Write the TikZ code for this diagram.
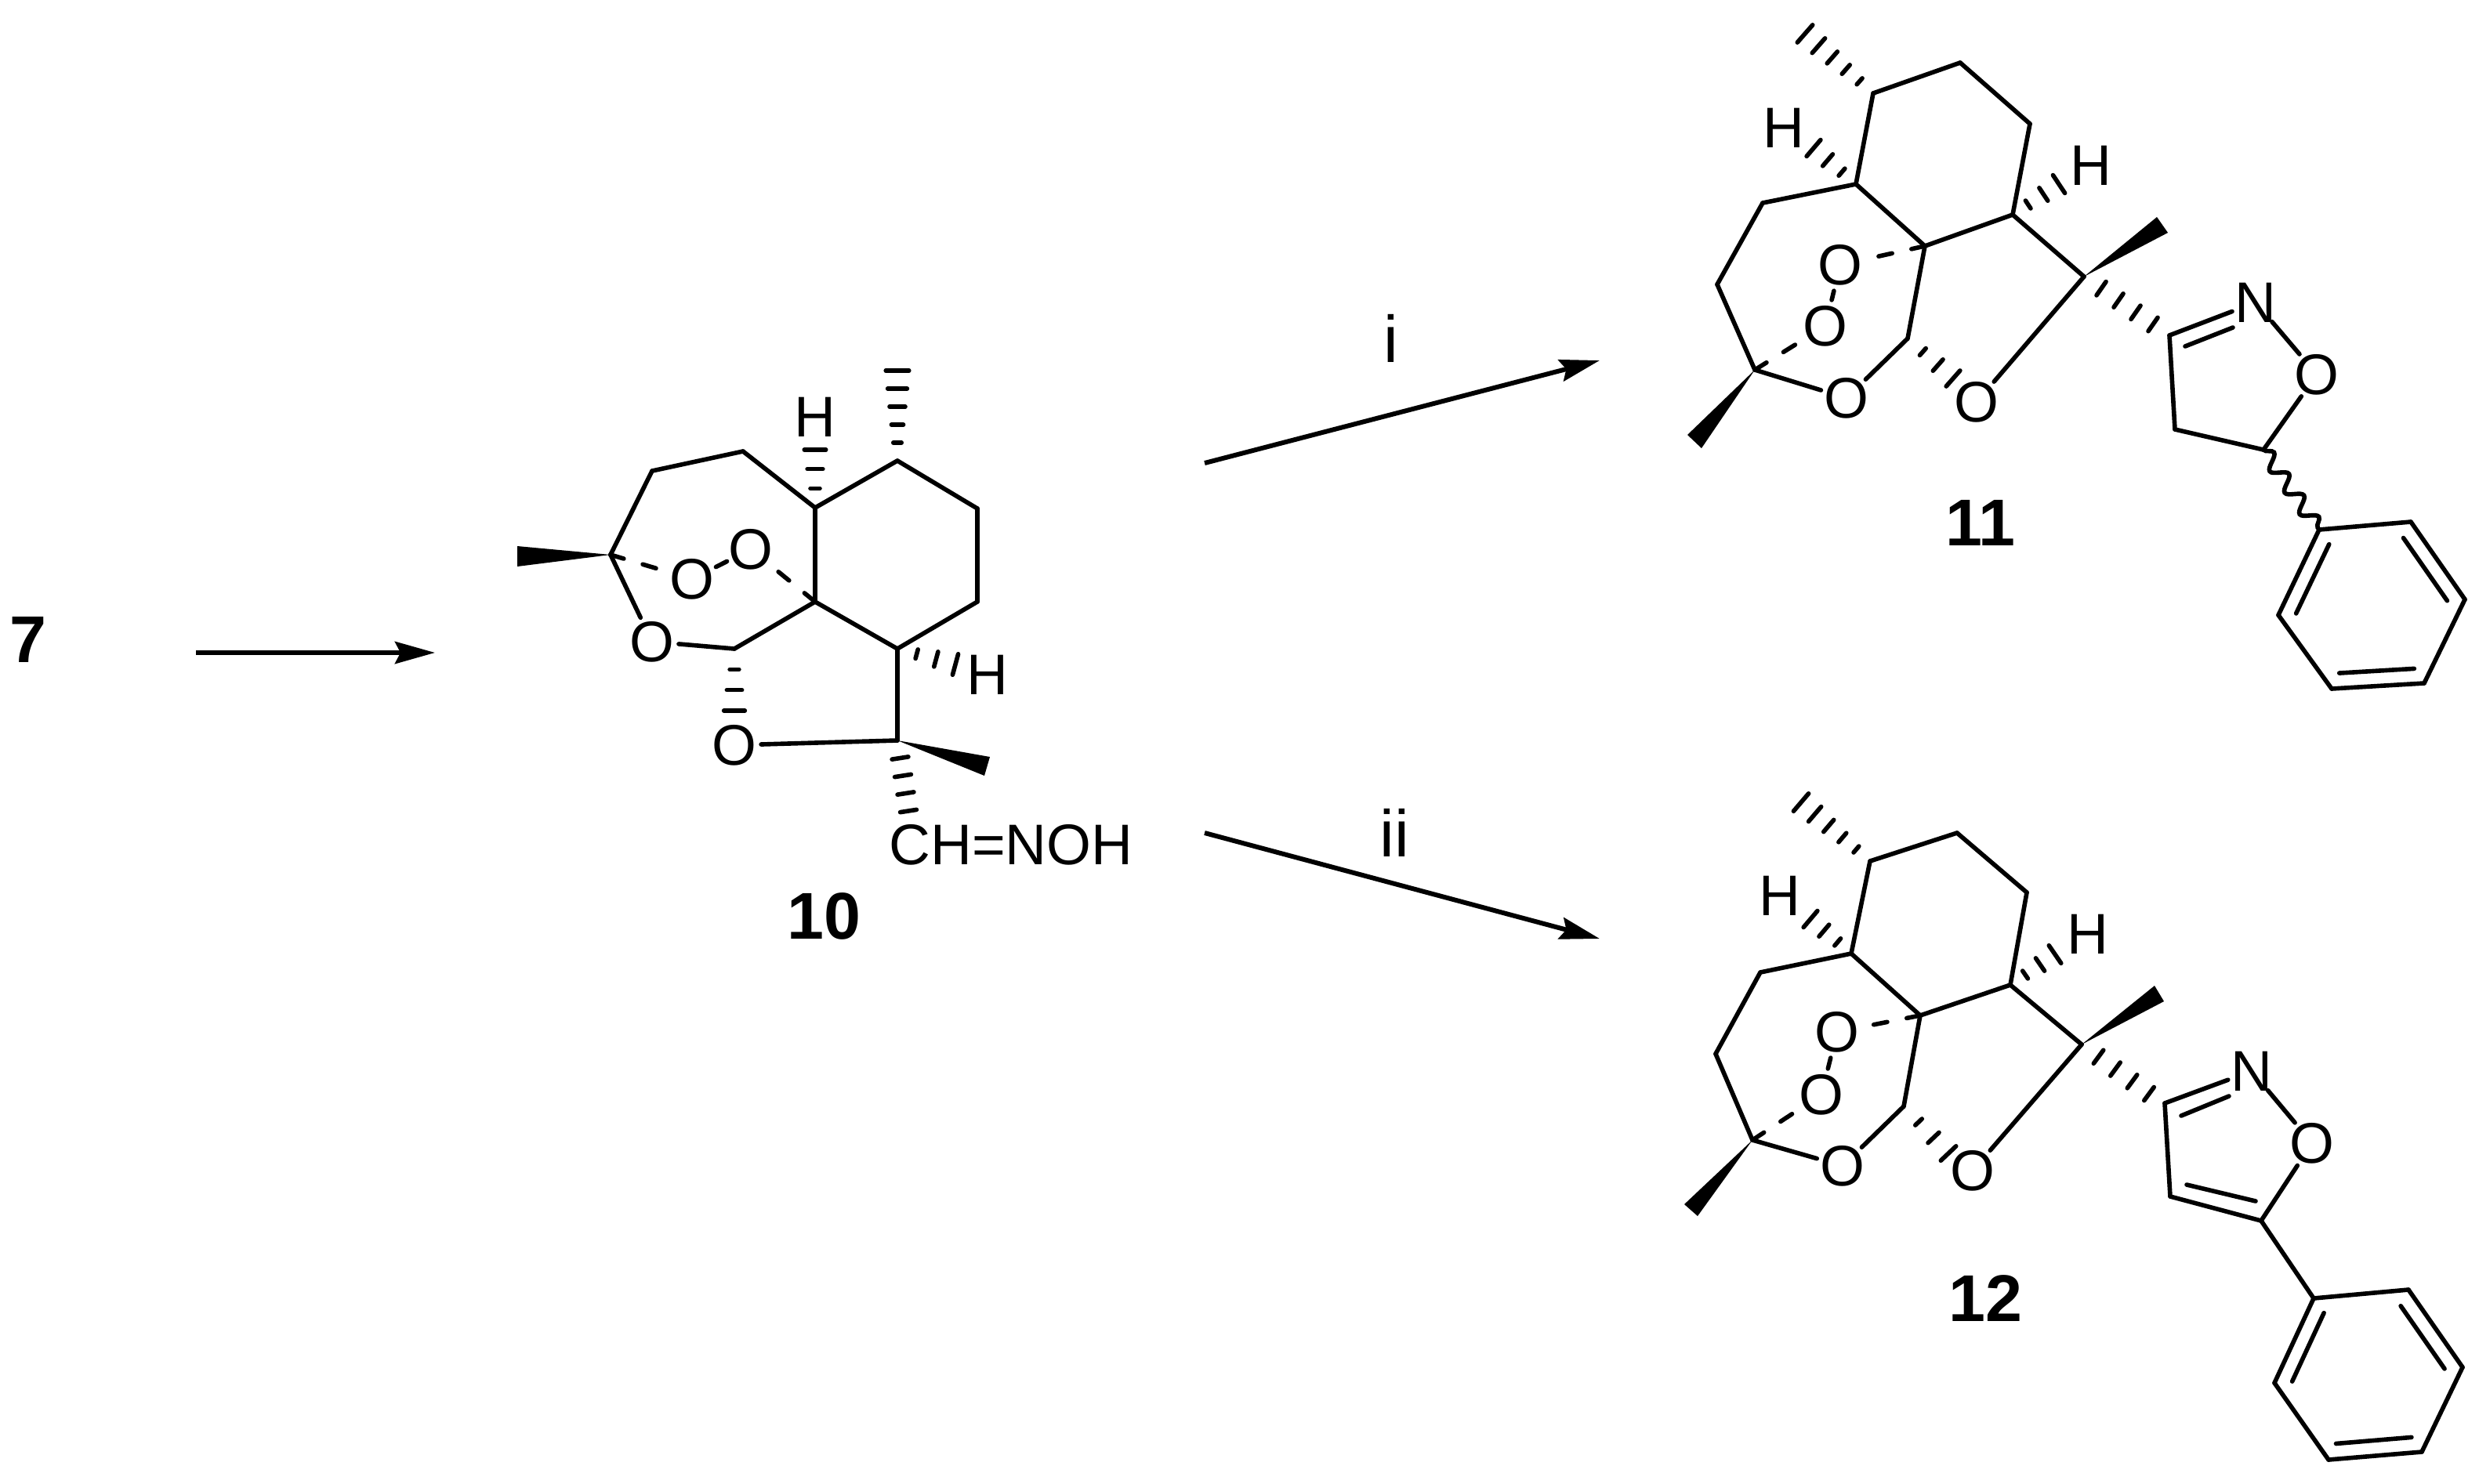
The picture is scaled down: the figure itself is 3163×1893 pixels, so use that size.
\documentclass[tikz,border=0pt]{standalone}
\usepackage{fontspec}
\setmainfont{Liberation Sans}
\usetikzlibrary{arrows.meta}
\usetikzlibrary{calc}
\usetikzlibrary{decorations.pathmorphing}
\tikzset{bond/.style = {line width=1.6pt, line cap=round},
         hashline/.style = {bond},
         openbond/.style = {bond, dash pattern=on 5pt off 7.2pt},
         wavybond/.style = {bond, decorate, decoration={snake, amplitude=2.6pt, segment length=9.5pt}},
         atom/.style = {circle, inner sep=-1pt, font=\fontsize{20.8}{24}\selectfont},
         label/.style = {inner sep=0pt, font=\fontsize{24}{28}\selectfont\bfseries},
         cond/.style = {inner sep=0pt, font=\fontsize{24}{28}\selectfont},
         rxn/.style = {line width=1.7pt, -{Stealth[length=14.5pt, width=8pt, inset=2pt]}}}

% stripes of a hashed bond, half widths in pt
\newcommand{\hashbond}[5]{
  \coordinate (far) at ($(#1)!2!(#2)$);
  \foreach \k in {1,...,#3}{
    \pgfmathsetmacro\f{\k/#3}
    \pgfmathsetmacro\w{#4+\f*(#5-#4)}
    \draw [hashline] ($(#1)!\f!(#2)!\w pt!90:(far)$) -- ($(#1)!\f!(#2)!-\w pt!90:(far)$);
  }
}
\newcommand{\artcore}[1]{
  \foreach \p/\q in {a/b,b/c,c/d,d/e,e/f,f/g,g/h,h/i,i/d,i/j,h/k,j/O3,O3/a,k/O4}
    \draw [bond] (#1\p) -- (#1\q);
  \foreach \p/\q in {a/O1,O1/O2,i/O2}
    \draw [openbond] (#1\p) -- (#1\q);
  \fill (#1a) -- (#1ma) -- (#1mb) -- cycle;
  \fill (#1k) -- (#1mc) -- (#1md) -- cycle;
  \hashbond{#1e}{#1he}{5}{0.8}{4.2}
  \hashbond{#1d}{#1hd}{3}{0.6}{3.9}
  \hashbond{#1h}{#1hh}{3}{0.6}{3.9}
  \hashbond{#1j}{#1hj}{3}{0.6}{3.8}
  \hashbond{#1k}{#1hk}{4}{3}{3}
}
\newcommand{\phenyl}[1]{
  \coordinate (#1pc) at ($(#1p1)!.5!(#1p4)$);
  \foreach \p/\q in {1/2,2/3,3/4,4/5,5/6,6/1}
    \draw [bond] (#1p\p) -- (#1p\q);
  \foreach \p/\q in {1/6,2/3,4/5}
    \draw [bond] ($(#1p\p)!.19!(#1pc)$) -- ($(#1p\q)!.19!(#1pc)$);
}

\begin{document}
\begin{tikzpicture}[x=0.01cm, y=-0.01cm]
  \useasboundingbox (0,0) rectangle (3163,1893);

  % compound 10
  \foreach \n/\x/\y in {a/779/708,b/832/601,c/948/576,d/1040/648,e/1145/588,f/1247/649,
                        g/1247/768,h/1145/828,i/1040/768,j/937/828,k/1145/945,
                        ma/660/697,mb/660/723,mc/1263/966,md/1256/990,he/1145/473,
                        hd/1040/574,hh/1219/848,hj/937/907,hk/1159/1035}
    \coordinate (p10\n) at (\x,\y);
  \foreach \n/\x/\y in {O1/883/739,O2/958/701,O3/832/819,O4/937/951}
    \node [atom] (p10\n) at (\x,\y) {O};
  \node [atom] (p10Hd) at (1040,532) {H};
  \node [atom] (p10Hh) at (1260,861) {H};
  \artcore{p10}
  \node [atom] (oxime) at (1290,1078) {CH=NOH};
  \node [label] (lab10) at (1051,1169) {10};

  % compound 11
  \foreach \n/\x/\y in {a/2239/472,b/2191/363,c/2249/259,d/2368/235,e/2390/119,f/2501/80,
                        g/2590/158,h/2568/274,i/2456/314,j/2434/432,k/2659/353,
                        ma/2153/555,mb/2171/572,mc/2752/277,md/2766/297,he/2303/43,
                        hd/2314/189,hh/2627/235,hj/2492/483,hk/2747/414,
                        l/2768/428,m/2775/548,n/2888/574,dl/2788/442,dN/2849/418,
                        p1/2959/676,p2/3076/666,p3/3145/765,p4/3093/872,p5/2975/879,p6/2907/785}
    \coordinate (p11\n) at (\x,\y);
  \foreach \n/\x/\y in {O1/2329/416,O2/2348/338,O3/2356/508,O4/2522/513}
    \node [atom] (p11\n) at (\x,\y) {O};
  \node [atom] (p11Hd) at (2276,163) {H};
  \node [atom] (p11Hh) at (2668,211) {H};
  \artcore{p11}
  \node [atom] (p11N) at (2878,386) {N};
  \node [atom] (p11O5) at (2956,478) {O};
  \foreach \p/\q in {l/N,N/O5,O5/n,n/m,m/l,dl/dN}
    \draw [bond] (p11\p) -- (p11\q);
  \draw [wavybond] (p11n) -- (p11p1);
  \phenyl{p11}
  \node [label] (lab11) at (2527,667) {11};

  % compound 12
  \foreach \n/\x/\y in {a/2236/1455,b/2189/1345,c/2246/1241,d/2362/1217,e/2386/1099,f/2497/1063,
                        g/2586/1139,h/2565/1257,i/2450/1296,j/2429/1412,k/2656/1333,
                        ma/2149/1537,mb/2166/1552,mc/2749/1258,md/2761/1278,he/2298/1024,
                        hd/2310/1173,hh/2622/1218,hj/2486/1472,hk/2742/1396,
                        l/2762/1408,m/2769/1527,n/2885/1558,dl/2783/1424,dN/2844/1399,
                        dm/2790/1512,dn/2878/1533,
                        p1/2952/1657,p2/3073/1646,p3/3142/1745,p4/3090/1853,p5/2971/1863,p6/2902/1765}
    \coordinate (p12\n) at (\x,\y);
  \foreach \n/\x/\y in {O1/2324/1397,O2/2344/1317,O3/2351/1488,O4/2517/1494}
    \node [atom] (p12\n) at (\x,\y) {O};
  \node [atom] (p12Hd) at (2271,1143) {H};
  \node [atom] (p12Hh) at (2664,1192) {H};
  \artcore{p12}
  \node [atom] (p12N) at (2873,1367) {N};
  \node [atom] (p12O5) at (2950,1459) {O};
  \foreach \p/\q in {l/N,N/O5,O5/n,n/m,m/l,dl/dN,dm/dn,n/p1}
    \draw [bond] (p12\p) -- (p12\q);
  \phenyl{p12}
  \node [label] (lab12) at (2533,1657) {12};

  % scheme
  \node [label] (lab7) at (36,816) {7};
  \coordinate (s1) at (250,833);
  \coordinate (e1) at (555,833);
  \coordinate (s2) at (1537,591);
  \coordinate (e2) at (2041,460);
  \coordinate (s3) at (1537,1063);
  \coordinate (e3) at (2041,1198);
  \draw [rxn] (s1) -- (e1);
  \draw [rxn] (s2) -- (e2);
  \draw [rxn] (s3) -- (e3);
  \node [cond] (condi) at (1775,432) {i};
  \node [cond] (condii) at (1779,1063) {ii};
\end{tikzpicture}
\end{document}
